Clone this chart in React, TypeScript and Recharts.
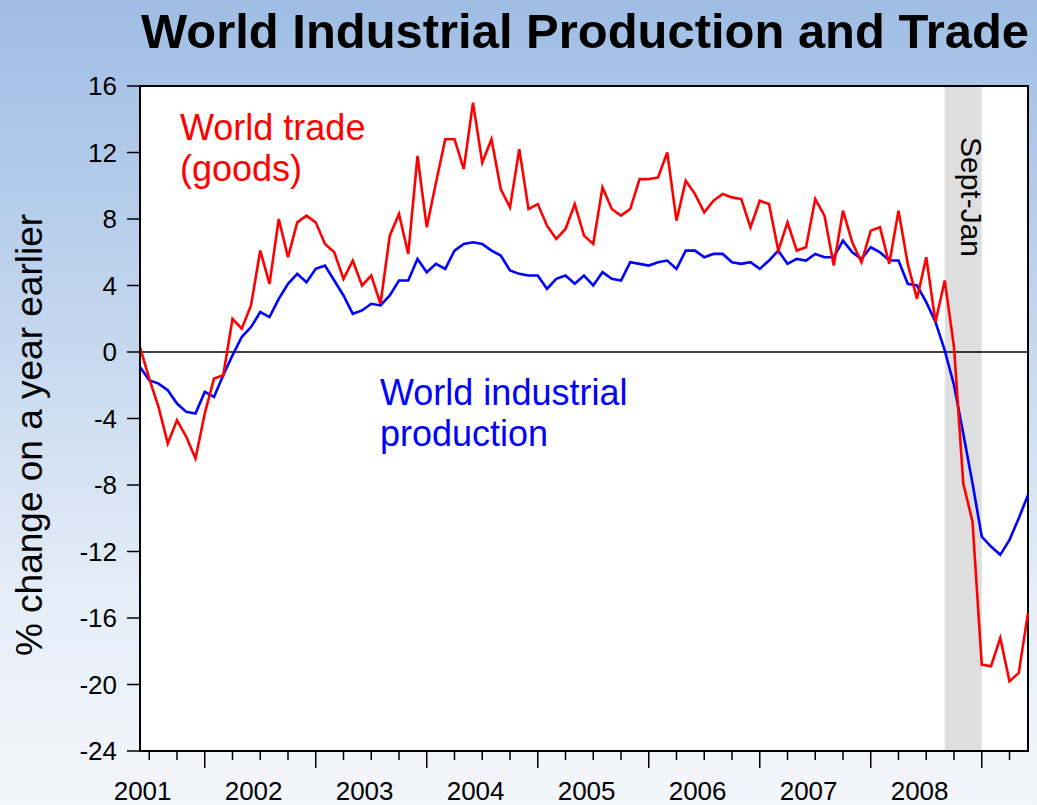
import React from "react";
import {
  LineChart, Line, XAxis, YAxis, CartesianGrid, ReferenceArea, ReferenceLine,
} from "recharts";

// monthly, Jun 2001 .. Jun 2009, % change on a year earlier
const FIRST_YEAR = 2001;
const FIRST_MONTH = 6;

const WORLD_TRADE = [
  0.3, -1.6, -3.3, -5.5, -4.1, -5.1, -6.4, -3.7, -1.6, -1.4,
  2.0, 1.4, 2.8, 6.1, 4.1, 8.0, 5.7, 7.8, 8.2, 7.8,
  6.5, 6.0, 4.4, 5.5, 4.0, 4.6, 2.9, 7.0, 8.3, 5.9,
  11.8, 7.5, 10.2, 12.8, 12.8, 11.0, 15.0, 11.4, 12.8, 9.8,
  8.7, 12.2, 8.6, 8.9, 7.6, 6.8, 7.4, 8.9, 7.0, 6.5,
  9.9, 8.6, 8.2, 8.6, 10.4, 10.4, 10.5, 12.0, 7.9, 10.3,
  9.5, 8.4, 9.1, 9.5, 9.3, 9.2, 7.5, 9.1, 8.9, 6.1,
  7.8, 6.1, 6.3, 9.2, 8.2, 5.2, 8.5, 6.6, 5.4, 7.3,
  7.5, 5.3, 8.5, 5.3, 3.2, 5.7, 1.8, 4.3, 0.3, -7.9,
  -10.2, -18.8, -18.9, -17.2, -19.8, -19.3, -15.7,
];

const WORLD_IP = [
  -0.9, -1.7, -1.9, -2.3, -3.1, -3.6, -3.7, -2.4, -2.7, -1.4,
  -0.2, 0.9, 1.5, 2.4, 2.1, 3.2, 4.1, 4.7, 4.2, 5.0,
  5.2, 4.3, 3.4, 2.3, 2.5, 2.9, 2.8, 3.4, 4.3, 4.3,
  5.6, 4.8, 5.3, 5.0, 6.1, 6.5, 6.6, 6.5, 6.1, 5.8,
  4.9, 4.7, 4.6, 4.6, 3.8, 4.4, 4.6, 4.1, 4.6, 4.0,
  4.8, 4.4, 4.3, 5.4, 5.3, 5.2, 5.4, 5.5, 5.0, 6.1,
  6.1, 5.7, 5.9, 5.9, 5.4, 5.3, 5.4, 5.0, 5.5, 6.1,
  5.3, 5.6, 5.5, 5.9, 5.7, 5.7, 6.7, 6.0, 5.6, 6.3,
  6.0, 5.5, 5.5, 4.1, 4.0, 3.0, 1.8, 0.1, -2.0, -4.9,
  -7.9, -11.1, -11.7, -12.2, -11.3, -10.0, -8.6,
];

const YEAR_LABELS = ["2001", "2002", "2003", "2004", "2005", "2006", "2007", "2008"];
const Y_TICKS = [16, 12, 8, 4, 0, -4, -8, -12, -16, -20, -24];
const BAND = { from: "2008-09", to: "2009-01", label: "Sept-Jan" };

const months = WORLD_TRADE.map((_, i) => {
  const m0 = FIRST_MONTH - 1 + i;
  return { year: FIRST_YEAR + Math.floor(m0 / 12), month: (m0 % 12) + 1 };
});
const key = (m: { year: number; month: number }) =>
  `${m.year}-${String(m.month).padStart(2, "0")}`;
const indexOf = (k: string) => months.findIndex((m) => key(m) === k);
const janIndex = (year: number) => (year - FIRST_YEAR) * 12 - (FIRST_MONTH - 1);

const data = months.map((m, i) => ({
  i,
  date: key(m),
  trade: WORLD_TRADE[i],
  ip: WORLD_IP[i],
}));

const LAST = data.length - 1;
const quarterTicks = data.filter((d) => months[d.i].month % 3 === 1).map((d) => d.i);
const labelTicks = YEAR_LABELS.map((y) => janIndex(Number(y)) + 5.5);
const xTicks = [...quarterTicks, ...labelTicks];

const FONT = "'Liberation Sans', Arial, sans-serif";

function XTick(props: any) {
  const { x, y, payload } = props;
  const v = payload.value;
  if (Number.isInteger(v)) {
    const major = months[v].month === 1;
    return <line x1={x} x2={x} y1={y} y2={y + (major ? 17 : 9)} stroke="#000" strokeWidth={1.5} />;
  }
  const year = YEAR_LABELS[labelTicks.indexOf(v)];
  return (
    <text x={x - 2} y={y + 49} textAnchor="middle" fontSize={26} fill="#000" fontFamily={FONT}>
      {year}
    </text>
  );
}

function BandLabel(props: any) {
  const { viewBox } = props;
  const cx = viewBox.x + viewBox.width * 0.44;
  const ty = viewBox.y + 51;
  return (
    <text x={cx} y={ty} transform={`rotate(90 ${cx} ${ty})`} fontSize={30} fill="#000" fontFamily={FONT}>
      {BAND.label}
    </text>
  );
}

export default function App() {
  return (
    <div
      style={{
        position: "absolute", left: 0, top: 0, width: 1037, height: 805, overflow: "hidden",
        background: "linear-gradient(to bottom, #9fbde4 0%, #c3d6ee 40%, #e6eef8 75%, #f3f6fb 100%)",
        fontFamily: FONT,
      }}
    >
      <LineChart width={1037} height={805} data={data} margin={{ top: 86, right: 9, left: 0, bottom: 0 }}>
        <CartesianGrid horizontal={false} vertical={false} fill="#fff" />
        <ReferenceArea x1={indexOf(BAND.from)} x2={indexOf(BAND.to)} y1={-24} y2={16}
          fill="#dedede" fillOpacity={1} stroke="none" label={(p: any) => <BandLabel {...p} />} />
        <ReferenceLine y={0} stroke="#000" strokeWidth={1.3} />
        <XAxis dataKey="i" type="number" domain={[0, LAST]} ticks={xTicks} interval={0}
          height={54} tickLine={false} tickSize={0} tickMargin={0}
          axisLine={{ stroke: "#000", strokeWidth: 2 }} tick={<XTick />} />
        <YAxis domain={[-24, 16]} ticks={Y_TICKS} interval={0} width={140}
          tickSize={13} tickMargin={10}
          axisLine={{ stroke: "#000", strokeWidth: 2 }} tickLine={{ stroke: "#000", strokeWidth: 1.5 }}
          tick={{ fontSize: 26, fill: "#000", fontFamily: FONT }} />
        <Line dataKey="ip" stroke="#0000ff" strokeWidth={2.6} dot={false} isAnimationActive={false} />
        <Line dataKey="trade" stroke="#ff0000" strokeWidth={2.6} dot={false} isAnimationActive={false} />
        <ReferenceArea x1={0} x2={LAST} y1={-24} y2={16} fill="none" stroke="#000" strokeWidth={2} ifOverflow="visible" />
      </LineChart>

      <svg width={1037} height={805} style={{ position: "absolute", left: 0, top: 0, pointerEvents: "none" }}>
        <text x={141} y={48} fontSize={49} fontWeight="bold" fill="#000" fontFamily={FONT}
          textLength={888} lengthAdjust="spacingAndGlyphs">
          World Industrial Production and Trade
        </text>
        <text x={42} y={435} transform="rotate(-90 42 435)" textAnchor="middle" fontSize={37} fill="#000" fontFamily={FONT}>
          % change on a year earlier
        </text>
        <text fontSize={36} fill="#ff0000" fontFamily={FONT}>
          <tspan x={180} y={140}>World trade</tspan>
          <tspan x={180} y={181}>(goods)</tspan>
        </text>
        <text fontSize={36} fill="#0000ff" fontFamily={FONT}>
          <tspan x={380} y={405}>World industrial</tspan>
          <tspan x={380} y={446}>production</tspan>
        </text>
      </svg>
    </div>
  );
}
